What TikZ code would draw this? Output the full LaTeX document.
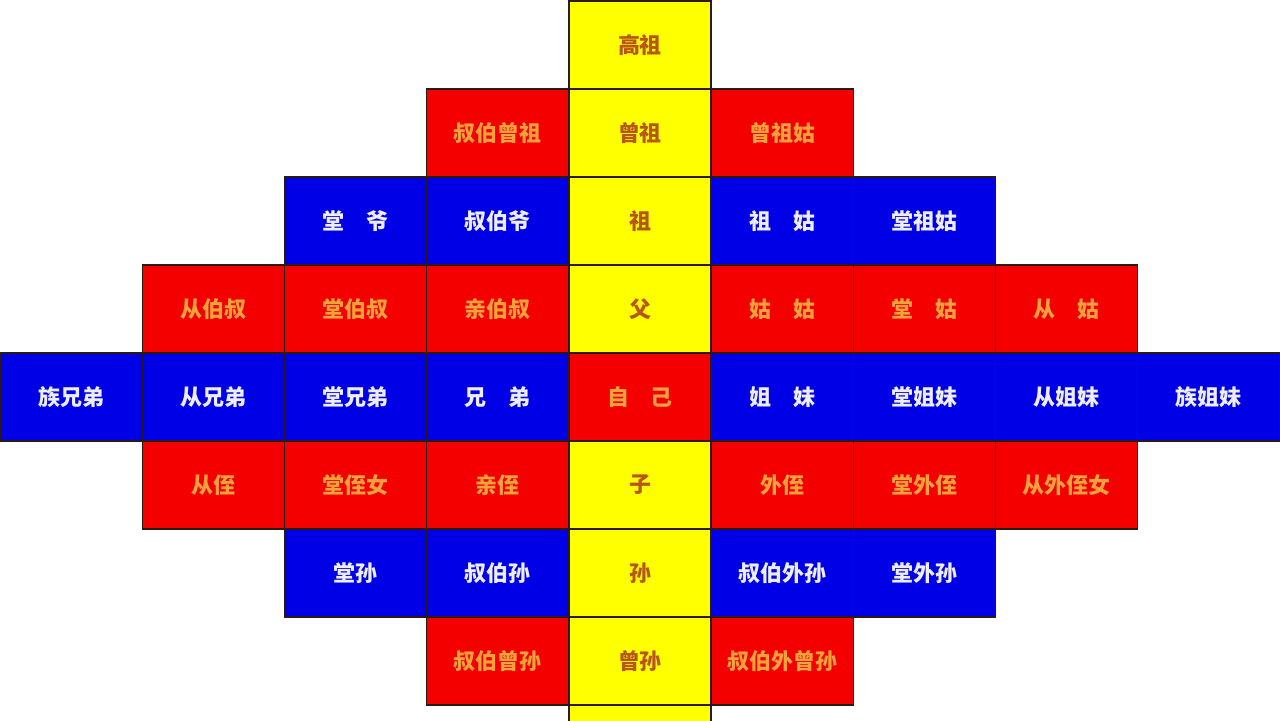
\documentclass[tikz,border=0pt]{standalone}
\usepackage{fontspec}
\setmainfont{Noto Sans CJK SC}
\usetikzlibrary{positioning}

\definecolor{redfill}{HTML}{F50000}
\definecolor{bluefill}{HTML}{0000E6}
\definecolor{yelfill}{HTML}{FFFF00}
\definecolor{redtext}{HTML}{F2A23A}
\definecolor{bluetext}{HTML}{EDEDF5}
\definecolor{yeltext}{HTML}{B8561A}
\definecolor{gridline}{HTML}{2A1A10}

\tikzset{
    cell/.style={draw=gridline,line width=0.8pt,fill=#1fill,text=#1text,
        minimum width=2.8444cm,minimum height=1.76cm,inner sep=0pt,outer sep=0pt,
        font=\fontsize{12.5}{14}\selectfont\bfseries},
}

\begin{document}
\begin{tikzpicture}
    \useasboundingbox (0,0) rectangle (25.6,-14.4);
    \clip (0,0) rectangle (25.6,-14.4);
    \fill[white] (0,0) rectangle (25.6,-14.4);
    % row/column/colour/label
    \foreach \r/\c/\k/\t in {
        0/4/yel/高祖,
        1/3/red/叔伯曾祖, 1/4/yel/曾祖, 1/5/red/曾祖姑,
        2/2/blue/堂　爷, 2/3/blue/叔伯爷, 2/4/yel/祖, 2/5/blue/祖　姑, 2/6/blue/堂祖姑,
        3/1/red/从伯叔, 3/2/red/堂伯叔, 3/3/red/亲伯叔, 3/4/yel/父,
        3/5/red/姑　姑, 3/6/red/堂　姑, 3/7/red/从　姑,
        4/0/blue/族兄弟, 4/1/blue/从兄弟, 4/2/blue/堂兄弟, 4/3/blue/兄　弟, 4/4/red/自　己,
        4/5/blue/姐　妹, 4/6/blue/堂姐妹, 4/7/blue/从姐妹, 4/8/blue/族姐妹,
        5/1/red/从侄, 5/2/red/堂侄女, 5/3/red/亲侄, 5/4/yel/子,
        5/5/red/外侄, 5/6/red/堂外侄, 5/7/red/从外侄女,
        6/2/blue/堂孙, 6/3/blue/叔伯孙, 6/4/yel/孙, 6/5/blue/叔伯外孙, 6/6/blue/堂外孙,
        7/3/red/叔伯曾孙, 7/4/yel/曾孙, 7/5/red/叔伯外曾孙,
        8/4/yel/{}}
        \node[cell=\k] (r\r c\c) at ({(\c+0.5)*2.8444},{-(\r*1.76+0.90)}) {\t};
\end{tikzpicture}
\end{document}
